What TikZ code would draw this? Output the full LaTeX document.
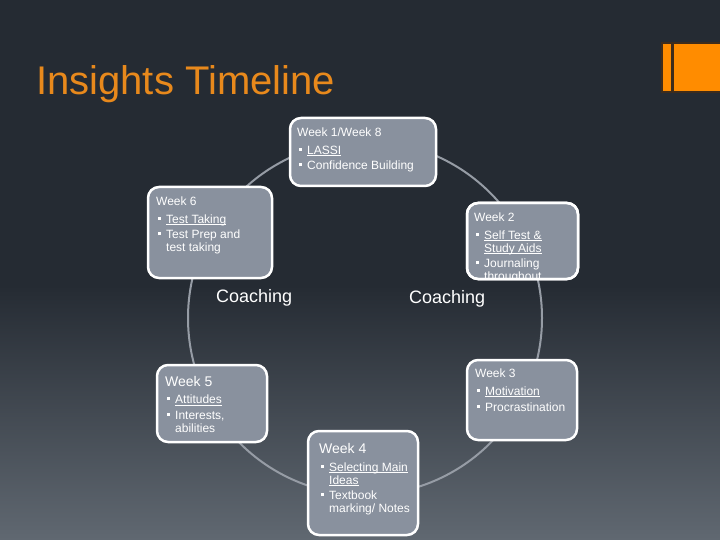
\documentclass[tikz,border=0pt]{standalone}
\usepackage{fontspec}
\setmainfont{Liberation Sans}
\definecolor{bgtop}{RGB}{37,43,51}
\definecolor{bgbot}{RGB}{96,104,113}
\definecolor{boxfill}{RGB}{137,145,158}
\definecolor{ringgray}{RGB}{150,156,165}
\definecolor{titleorange}{RGB}{232,137,28}
\definecolor{ornorange}{RGB}{255,140,0}
\definecolor{ornbrown}{RGB}{62,44,28}
\newsavebox{\myulbox}
\newcommand{\myul}[1]{\leavevmode\sbox{\myulbox}{#1}\rlap{\rule[-2pt]{\wd\myulbox}{1.1pt}}\usebox{\myulbox}}
\newcommand{\mybul}{\leavevmode\makebox[10pt][l]{\hspace*{2pt}\rule[3.5pt]{3pt}{3pt}}}
\newcommand{\myind}{\leavevmode\hspace*{10pt}}
\newcommand{\hsk}{\\[4.7pt]}
\newcommand{\bsk}{\\[2.6pt]}
\tikzset{
  box/.style={draw=white, line width=2.5pt, fill=boxfill, rounded corners=11pt, inner sep=0pt, outer sep=0pt},
  boxborder/.style={draw=white, line width=2.5pt, rounded corners=11pt},
  txt/.style={anchor=base west, inner sep=0pt, text=white, font=\fontsize{12}{13}\selectfont},
  coach/.style={anchor=base west, inner sep=0pt, text=white, font=\fontsize{18}{20}\selectfont},
}
\begin{document}
\begin{tikzpicture}[x=1pt,y=-1pt]
\useasboundingbox (0,0) rectangle (720,540);
% background
\fill[bgtop] (0,0) rectangle (720,540);
\shade[top color=bgtop, bottom color=bgbot] (0,285) rectangle (720,540);
% ornament
\fill[ornbrown] (661,42) rectangle (720,93);
\fill[ornorange] (663,44) rectangle (671,91);
\fill[ornorange] (674,44) rectangle (720,91);
% title
\node[anchor=base west, inner sep=0pt, text=titleorange, font=\fontsize{40}{48}\selectfont] (title) at (36,95) {Insights Timeline};
% ring
\node[draw=ringgray, line width=2pt, circle, minimum size=354pt, inner sep=0pt] (ring) at (365,318) {};
% boxes
\node[box, minimum width=146pt, minimum height=68pt] (w1) at (363,152) {};
\node[box, minimum width=124pt, minimum height=91pt] (w6) at (210,232.5) {};
\node[box, minimum width=111pt, minimum height=76pt] (w2) at (522.5,241) {};
\node[box, minimum width=110pt, minimum height=80pt] (w3) at (522,400) {};
\node[box, minimum width=110pt, minimum height=77pt] (w5) at (212,403.5) {};
\node[box, minimum width=110pt, minimum height=104pt] (w4) at (363,483) {};
% texts
\node[txt] (t1) at (297,136.5) {\parbox[t]{140pt}{Week 1/Week 8\hsk\mybul\myul{LASSI}\bsk\mybul Confidence Building}};
\node[txt] (t6) at (156,205.7) {\parbox[t]{120pt}{Week 6\hsk\mybul\myul{Test Taking}\bsk\mybul Test Prep and\\\myind test taking}};
\begin{scope}
\clip[rounded corners=11pt] (w2.south west) rectangle (w2.north east);
\node[txt] (t2) at (474,221.5) {\parbox[t]{110pt}{Week 2\hsk\mybul\myul{Self Test \&}\\\myind\myul{Study Aids}\bsk\mybul Journaling\\\myind throughout}};
\end{scope}
\draw[boxborder] (w2.south west) rectangle (w2.north east);
\node[txt] (t3) at (475,377.7) {\parbox[t]{110pt}{Week 3\hsk\mybul\myul{Motivation}\bsk\mybul Procrastination}};
\node[txt] (t5) at (165,386) {\parbox[t]{110pt}{{\fontsize{14}{13}\selectfont Week 5}\hsk\mybul\myul{Attitudes}\bsk\mybul Interests,\\\myind abilities}};
\node[txt] (t4) at (319,453.3) {\parbox[t]{110pt}{{\fontsize{14}{13}\selectfont Week 4}\hsk\mybul\myul{Selecting Main}\\\myind\myul{Ideas}\bsk\mybul Textbook\\\myind marking/ Notes}};
% coaching labels
\node[coach] (c1) at (216,302) {Coaching};
\node[coach] (c2) at (409,303) {Coaching};
\end{tikzpicture}
\end{document}
